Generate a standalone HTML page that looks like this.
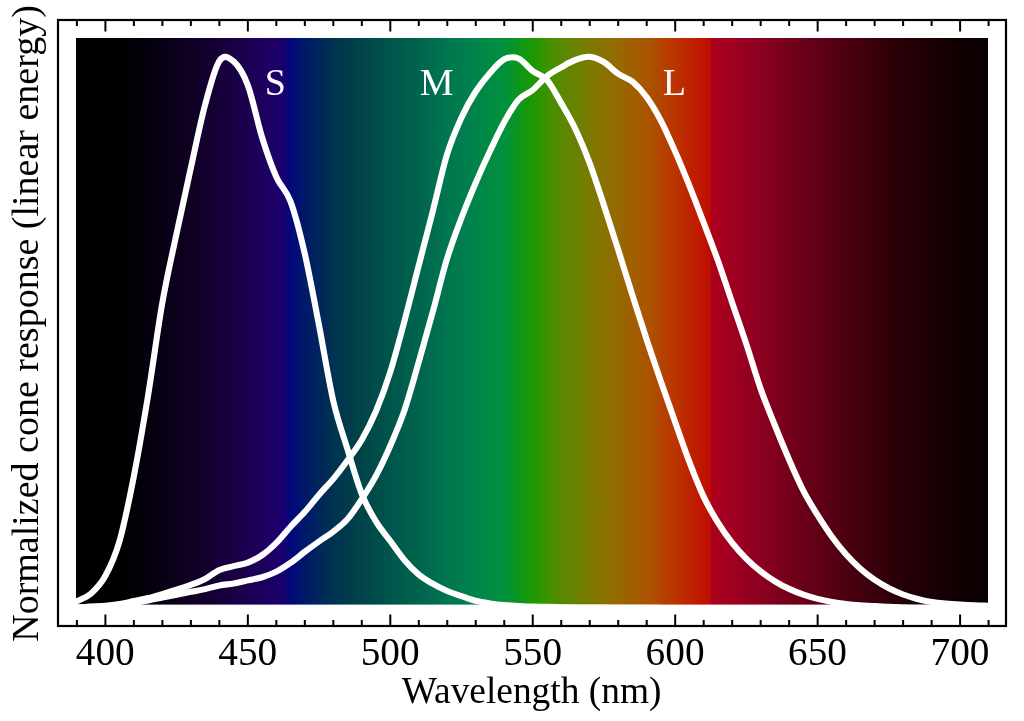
<!DOCTYPE html>
<html><head><meta charset="utf-8"><style>
html,body{margin:0;padding:0;background:#fff;}
svg{display:block;will-change:transform;}
text{font-family:"Liberation Serif",serif;font-size:38px;}
</style></head><body>
<svg width="1024" height="721" viewBox="0 0 1024 721">
<defs><linearGradient id="g" x1="0" x2="1" y1="0" y2="0"><stop offset="0.0010" stop-color="rgb(0,0,0)"/><stop offset="0.0479" stop-color="rgb(0,0,0)"/><stop offset="0.0947" stop-color="rgb(8,0,20)"/><stop offset="0.1260" stop-color="rgb(15,0,35)"/><stop offset="0.1572" stop-color="rgb(22,0,55)"/><stop offset="0.1884" stop-color="rgb(28,0,80)"/><stop offset="0.2197" stop-color="rgb(30,0,105)"/><stop offset="0.2259" stop-color="rgb(28,0,108)"/><stop offset="0.2347" stop-color="rgb(2,7,123)"/><stop offset="0.2509" stop-color="rgb(0,25,105)"/><stop offset="0.2821" stop-color="rgb(0,50,80)"/><stop offset="0.3134" stop-color="rgb(0,68,72)"/><stop offset="0.3446" stop-color="rgb(0,85,75)"/><stop offset="0.3759" stop-color="rgb(0,100,78)"/><stop offset="0.4071" stop-color="rgb(0,118,80)"/><stop offset="0.4383" stop-color="rgb(0,132,75)"/><stop offset="0.4696" stop-color="rgb(0,145,60)"/><stop offset="0.4946" stop-color="rgb(20,152,10)"/><stop offset="0.5071" stop-color="rgb(40,150,0)"/><stop offset="0.5196" stop-color="rgb(68,144,0)"/><stop offset="0.5321" stop-color="rgb(88,137,0)"/><stop offset="0.5633" stop-color="rgb(123,122,0)"/><stop offset="0.5945" stop-color="rgb(150,105,0)"/><stop offset="0.6258" stop-color="rgb(170,85,0)"/><stop offset="0.6570" stop-color="rgb(187,52,0)"/><stop offset="0.6758" stop-color="rgb(190,32,0)"/><stop offset="0.6954" stop-color="rgb(190,13,0)"/><stop offset="0.6964" stop-color="rgb(172,0,28)"/><stop offset="0.7195" stop-color="rgb(160,0,33)"/><stop offset="0.7507" stop-color="rgb(139,0,31)"/><stop offset="0.7820" stop-color="rgb(116,0,27)"/><stop offset="0.8132" stop-color="rgb(96,0,22)"/><stop offset="0.8445" stop-color="rgb(76,0,16)"/><stop offset="0.8757" stop-color="rgb(56,0,11)"/><stop offset="0.9069" stop-color="rgb(39,0,7)"/><stop offset="0.9382" stop-color="rgb(26,0,4)"/><stop offset="0.9694" stop-color="rgb(16,0,2)"/><stop offset="1.0006" stop-color="rgb(9,0,1)"/></linearGradient>
<clipPath id="c"><rect x="76" y="37" width="912" height="700"/></clipPath></defs>
<rect width="1024" height="721" fill="#fff"/>
<rect x="76" y="38" width="912" height="566.6" fill="url(#g)"/>
<g fill="none" stroke="#fff" stroke-width="6.1" stroke-linejoin="round" stroke-linecap="butt" clip-path="url(#c)">
<path d="M62.66 609.20 C65.04 607.89 72.16 603.94 76.91 601.32 C81.66 598.69 86.41 597.68 91.16 593.43 C95.90 589.18 100.65 584.62 105.40 575.81 C110.15 567.01 114.90 557.22 119.65 540.59 C124.39 523.97 129.14 500.32 133.89 476.07 C138.64 451.83 143.39 424.05 148.13 395.13 C152.88 366.21 157.63 329.52 162.38 302.56 C167.13 275.60 171.88 255.84 176.62 233.37 C181.37 210.89 186.12 189.15 190.87 167.73 C195.62 146.30 200.37 122.61 205.12 104.82 C209.86 87.03 214.61 68.21 219.36 60.98 C224.11 53.75 228.86 57.38 233.61 61.44 C238.35 65.50 243.10 72.70 247.85 85.37 C252.60 98.04 257.35 122.21 262.10 137.47 C266.84 152.73 271.59 166.24 276.34 176.94 C281.09 187.63 285.84 188.81 290.59 201.66 C295.33 214.50 300.08 233.33 304.83 254.00 C309.58 274.67 314.33 301.16 319.08 325.67 C323.82 350.19 328.57 380.43 333.32 401.06 C338.07 421.69 342.82 433.94 347.57 449.45 C352.31 464.96 357.06 482.07 361.81 494.10 C366.56 506.13 371.31 513.83 376.06 521.65 C380.80 529.47 385.55 534.60 390.30 541.02 C395.05 547.45 399.80 554.61 404.55 560.20 C409.29 565.78 414.04 570.58 418.79 574.53 C423.54 578.48 428.29 581.13 433.04 583.88 C437.78 586.63 442.53 589.00 447.28 591.04 C452.03 593.08 456.78 594.50 461.52 596.14 C466.27 597.77 471.02 599.62 475.77 600.83 C480.52 602.04 485.27 602.71 490.01 603.42 C494.76 604.13 499.51 604.67 504.26 605.09 C509.01 605.51 513.76 605.68 518.50 605.93 C523.25 606.17 528.00 606.41 532.75 606.57 C537.50 606.73 542.25 606.77 547.00 606.87 C551.74 606.98 556.49 607.09 561.24 607.19 C565.99 607.29 570.74 607.42 575.49 607.48 C580.23 607.53 584.98 607.50 589.73 607.53 C594.48 607.55 599.23 607.60 603.98 607.62 C608.72 607.65 613.47 607.66 618.22 607.68 C622.97 607.71 627.72 607.73 632.47 607.77 C637.21 607.80 641.96 607.87 646.71 607.89 C651.46 607.92 656.21 607.92 660.96 607.93 C665.70 607.94 670.45 607.95 675.20 607.96 C679.95 607.98 684.70 608.00 689.45 608.01 C694.19 608.03 698.94 608.04 703.69 608.04 C708.44 608.05 713.19 608.03 717.94 608.02 C722.68 608.01 727.43 608.00 732.18 607.99 C736.93 607.98 741.68 607.98 746.43 607.97 C751.17 607.97 755.92 607.97 760.67 607.98 C765.42 607.98 770.17 607.99 774.92 608.00 C779.66 608.00 784.41 608.02 789.16 608.02 C793.91 608.03 798.66 608.04 803.40 608.04 C808.15 608.04 812.90 608.03 817.65 608.03 C822.40 608.02 827.15 608.01 831.89 608.01 C836.64 608.00 841.39 608.00 846.14 608.00 C850.89 608.00 855.64 608.00 860.38 608.00 C865.13 608.00 869.88 608.00 874.63 608.01 C879.38 608.01 884.13 608.02 888.88 608.03 C893.62 608.03 898.37 608.04 903.12 608.04 C907.87 608.04 912.62 608.04 917.37 608.04 C922.11 608.04 926.86 608.04 931.61 608.04 C936.36 608.04 941.11 608.03 945.86 608.03 C950.60 608.03 955.35 608.03 960.10 608.03 C964.85 608.03 969.60 608.04 974.35 608.04 C979.09 608.04 983.84 608.04 988.59 608.04 C993.34 608.04 1000.46 608.04 1002.84 608.04"/><path d="M62.66 608.71 C65.04 608.52 72.16 607.95 76.91 607.58 C81.66 607.20 86.41 606.75 91.16 606.45 C95.90 606.15 100.65 606.20 105.40 605.78 C110.15 605.36 114.90 604.72 119.65 603.94 C124.39 603.15 129.14 602.05 133.89 601.07 C138.64 600.10 143.39 599.25 148.13 598.08 C152.88 596.92 157.63 595.46 162.38 594.07 C167.13 592.69 171.88 591.31 176.62 589.77 C181.37 588.23 186.12 586.64 190.87 584.83 C195.62 583.02 200.37 581.39 205.12 578.93 C209.86 576.46 214.61 572.16 219.36 570.03 C224.11 567.91 228.86 567.42 233.61 566.17 C238.35 564.93 243.10 564.39 247.85 562.55 C252.60 560.71 257.35 558.41 262.10 555.13 C266.84 551.86 271.59 547.61 276.34 542.88 C281.09 538.15 285.84 531.91 290.59 526.73 C295.33 521.55 300.08 517.16 304.83 511.81 C309.58 506.47 314.33 500.15 319.08 494.66 C323.82 489.17 328.57 484.62 333.32 478.89 C338.07 473.16 342.82 466.80 347.57 460.28 C352.31 453.76 357.06 447.98 361.81 439.76 C366.56 431.54 371.31 422.30 376.06 410.98 C380.80 399.65 385.55 386.89 390.30 371.83 C395.05 356.78 399.80 338.42 404.55 320.67 C409.29 302.91 414.04 283.71 418.79 265.30 C423.54 246.88 428.29 228.79 433.04 210.19 C437.78 191.59 442.53 169.16 447.28 153.69 C452.03 138.23 456.78 127.77 461.52 117.40 C466.27 107.04 471.02 98.93 475.77 91.52 C480.52 84.11 485.27 78.31 490.01 72.94 C494.76 67.58 499.51 61.74 504.26 59.33 C509.01 56.92 513.76 56.51 518.50 58.47 C523.25 60.43 528.00 67.47 532.75 71.06 C537.50 74.65 542.25 74.65 547.00 80.00 C551.74 85.34 556.49 94.92 561.24 103.12 C565.99 111.32 570.74 119.17 575.49 129.22 C580.23 139.26 584.98 150.68 589.73 163.39 C594.48 176.10 599.23 191.06 603.98 205.48 C608.72 219.90 613.47 234.94 618.22 249.91 C622.97 264.88 627.72 280.31 632.47 295.29 C637.21 310.28 641.96 325.41 646.71 339.80 C651.46 354.19 656.21 367.90 660.96 381.64 C665.70 395.38 670.45 408.82 675.20 422.23 C679.95 435.65 684.70 449.71 689.45 462.15 C694.19 474.59 698.94 486.83 703.69 496.89 C708.44 506.95 713.19 514.86 717.94 522.52 C722.68 530.18 727.43 536.80 732.18 542.85 C736.93 548.91 741.68 554.07 746.43 558.84 C751.17 563.60 755.92 567.69 760.67 571.43 C765.42 575.17 770.17 578.37 774.92 581.28 C779.66 584.19 784.41 586.65 789.16 588.88 C793.91 591.10 798.66 592.96 803.40 594.63 C808.15 596.29 812.90 597.65 817.65 598.86 C822.40 600.07 827.15 601.03 831.89 601.88 C836.64 602.72 841.39 603.37 846.14 603.94 C850.89 604.52 855.64 604.93 860.38 605.30 C865.13 605.67 869.88 605.89 874.63 606.15 C879.38 606.40 884.13 606.61 888.88 606.83 C893.62 607.04 898.37 607.29 903.12 607.44 C907.87 607.60 912.62 607.68 917.37 607.76 C922.11 607.84 926.86 607.88 931.61 607.92 C936.36 607.96 941.11 607.98 945.86 607.99 C950.60 608.01 955.35 608.02 960.10 608.02 C964.85 608.03 969.60 608.03 974.35 608.03 C979.09 608.04 983.84 608.04 988.59 608.04 C993.34 608.04 1000.46 608.04 1002.84 608.04"/><path d="M62.66 608.23 C65.04 608.12 72.16 607.79 76.91 607.57 C81.66 607.35 86.41 607.13 91.16 606.92 C95.90 606.70 100.65 606.62 105.40 606.30 C110.15 605.98 114.90 605.55 119.65 605.01 C124.39 604.47 129.14 603.81 133.89 603.05 C138.64 602.29 143.39 601.38 148.13 600.46 C152.88 599.55 157.63 598.50 162.38 597.53 C167.13 596.56 171.88 595.60 176.62 594.66 C181.37 593.71 186.12 592.78 190.87 591.86 C195.62 590.95 200.37 590.23 205.12 589.15 C209.86 588.07 214.61 586.32 219.36 585.39 C224.11 584.46 228.86 584.39 233.61 583.56 C238.35 582.72 243.10 581.42 247.85 580.36 C252.60 579.31 257.35 578.68 262.10 577.23 C266.84 575.78 271.59 574.05 276.34 571.65 C281.09 569.24 285.84 566.12 290.59 562.81 C295.33 559.50 300.08 555.38 304.83 551.80 C309.58 548.23 314.33 544.73 319.08 541.37 C323.82 538.00 328.57 535.32 333.32 531.60 C338.07 527.88 342.82 524.46 347.57 519.04 C352.31 513.62 357.06 506.33 361.81 499.09 C366.56 491.85 371.31 484.48 376.06 475.58 C380.80 466.68 385.55 456.63 390.30 445.70 C395.05 434.77 399.80 423.99 404.55 410.01 C409.29 396.03 414.04 378.34 418.79 361.82 C423.54 345.29 428.29 328.18 433.04 310.87 C437.78 293.55 442.53 273.46 447.28 257.94 C452.03 242.41 456.78 230.26 461.52 217.72 C466.27 205.19 471.02 193.84 475.77 182.73 C480.52 171.62 485.27 161.19 490.01 151.06 C494.76 140.94 499.51 130.55 504.26 121.98 C509.01 113.42 513.76 105.02 518.50 99.69 C523.25 94.36 528.00 93.93 532.75 90.00 C537.50 86.07 542.25 79.89 547.00 76.11 C551.74 72.33 556.49 70.01 561.24 67.32 C565.99 64.63 570.74 61.72 575.49 59.98 C580.23 58.23 584.98 56.46 589.73 56.83 C594.48 57.21 599.23 59.41 603.98 62.24 C608.72 65.08 613.47 70.60 618.22 73.85 C622.97 77.10 627.72 77.84 632.47 81.73 C637.21 85.63 641.96 90.71 646.71 97.22 C651.46 103.74 656.21 111.77 660.96 120.84 C665.70 129.91 670.45 140.79 675.20 151.64 C679.95 162.49 684.70 174.08 689.45 185.93 C694.19 197.79 698.94 210.31 703.69 222.79 C708.44 235.26 713.19 247.44 717.94 260.76 C722.68 274.07 727.43 288.72 732.18 302.65 C736.93 316.59 741.68 329.99 746.43 344.36 C751.17 358.73 755.92 375.35 760.67 388.88 C765.42 402.40 770.17 413.68 774.92 425.50 C779.66 437.32 784.41 448.90 789.16 459.78 C793.91 470.67 798.66 481.58 803.40 490.81 C808.15 500.05 812.90 507.54 817.65 515.21 C822.40 522.87 827.15 530.25 831.89 536.80 C836.64 543.35 841.39 549.20 846.14 554.52 C850.89 559.84 855.64 564.52 860.38 568.74 C865.13 572.96 869.88 576.59 874.63 579.85 C879.38 583.10 884.13 585.84 888.88 588.28 C893.62 590.72 898.37 592.72 903.12 594.50 C907.87 596.27 912.62 597.68 917.37 598.93 C922.11 600.18 926.86 601.21 931.61 601.99 C936.36 602.77 941.11 603.17 945.86 603.60 C950.60 604.03 955.35 604.32 960.10 604.60 C964.85 604.88 969.60 605.12 974.35 605.30 C979.09 605.48 983.84 605.57 988.59 605.70 C993.34 605.83 1000.46 606.03 1002.84 606.10"/></g>
<g fill="#fff"><text x="264.8" y="95.2">S</text><text x="419.8" y="95.2">M</text><text x="662.7" y="95">L</text></g>
<rect x="58" y="20" width="948" height="606" fill="none" stroke="#000" stroke-width="2.2"/>
<g stroke="#000" stroke-width="2" fill="none"><path d="M76.91 20 v5.9 M76.91 626 v-5.9"/><path d="M105.40 20 v11.4 M105.40 626 v-11.4"/><path d="M133.89 20 v5.9 M133.89 626 v-5.9"/><path d="M162.38 20 v5.9 M162.38 626 v-5.9"/><path d="M190.87 20 v5.9 M190.87 626 v-5.9"/><path d="M219.36 20 v5.9 M219.36 626 v-5.9"/><path d="M247.85 20 v11.4 M247.85 626 v-11.4"/><path d="M276.34 20 v5.9 M276.34 626 v-5.9"/><path d="M304.83 20 v5.9 M304.83 626 v-5.9"/><path d="M333.32 20 v5.9 M333.32 626 v-5.9"/><path d="M361.81 20 v5.9 M361.81 626 v-5.9"/><path d="M390.30 20 v11.4 M390.30 626 v-11.4"/><path d="M418.79 20 v5.9 M418.79 626 v-5.9"/><path d="M447.28 20 v5.9 M447.28 626 v-5.9"/><path d="M475.77 20 v5.9 M475.77 626 v-5.9"/><path d="M504.26 20 v5.9 M504.26 626 v-5.9"/><path d="M532.75 20 v11.4 M532.75 626 v-11.4"/><path d="M561.24 20 v5.9 M561.24 626 v-5.9"/><path d="M589.73 20 v5.9 M589.73 626 v-5.9"/><path d="M618.22 20 v5.9 M618.22 626 v-5.9"/><path d="M646.71 20 v5.9 M646.71 626 v-5.9"/><path d="M675.20 20 v11.4 M675.20 626 v-11.4"/><path d="M703.69 20 v5.9 M703.69 626 v-5.9"/><path d="M732.18 20 v5.9 M732.18 626 v-5.9"/><path d="M760.67 20 v5.9 M760.67 626 v-5.9"/><path d="M789.16 20 v5.9 M789.16 626 v-5.9"/><path d="M817.65 20 v11.4 M817.65 626 v-11.4"/><path d="M846.14 20 v5.9 M846.14 626 v-5.9"/><path d="M874.63 20 v5.9 M874.63 626 v-5.9"/><path d="M903.12 20 v5.9 M903.12 626 v-5.9"/><path d="M931.61 20 v5.9 M931.61 626 v-5.9"/><path d="M960.10 20 v11.4 M960.10 626 v-11.4"/><path d="M988.59 20 v5.9 M988.59 626 v-5.9"/></g>
<g fill="#000"><text x="105.30" y="665.1" text-anchor="middle" style="font-size:39.3px">400</text><text x="247.75" y="665.1" text-anchor="middle" style="font-size:39.3px">450</text><text x="390.20" y="665.1" text-anchor="middle" style="font-size:39.3px">500</text><text x="532.65" y="665.1" text-anchor="middle" style="font-size:39.3px">550</text><text x="675.10" y="665.1" text-anchor="middle" style="font-size:39.3px">600</text><text x="817.55" y="665.1" text-anchor="middle" style="font-size:39.3px">650</text><text x="960.00" y="665.1" text-anchor="middle" style="font-size:39.3px">700</text>
<text x="531.6" y="702.6" text-anchor="middle" style="font-size:37.4px">Wavelength (nm)</text>
<text transform="translate(38.2,323.5) rotate(-90)" text-anchor="middle" style="font-size:38px">Normalized cone response (linear energy)</text>
</g>
</svg></body></html>
